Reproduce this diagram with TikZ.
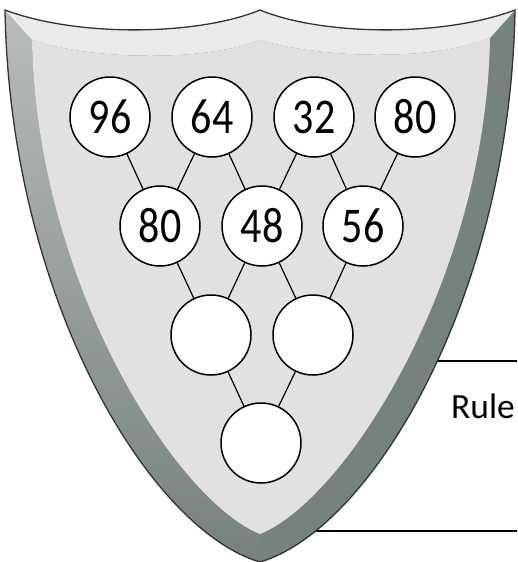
\documentclass[tikz,border=0pt]{standalone}
\usepackage{fontspec}
\setmainfont{Carlito}
\newfontfamily\digitfont{Carlito}[FakeStretch=0.84]
\definecolor{bevelright}{RGB}{118,130,125}
\definecolor{bevelleft}{RGB}{185,188,186}
\definecolor{beveltop}{RGB}{234,234,234}
\definecolor{shieldface}{RGB}{225,225,225}
\begin{document}
\begin{tikzpicture}[x=1pt,y=-1pt,
  num/.style={circle,draw,fill=white,line width=1.5pt,minimum size=80pt,inner sep=0pt,
    font=\digitfont\fontsize{50}{52}\selectfont},
  link/.style={line width=1.2pt}]
\clip (0,0) rectangle (517,562);
% rule box behind the shield
\draw[line width=1.2pt] (300,361) rectangle (580,531);
\node[anchor=base west,inner sep=0pt,font=\fontsize{35.5}{40}\selectfont] (rule) at (451,418) {Rule};
% shield
\fill[bevelright] (5,10) .. controls (80,38) and (200,35) .. (260,10) .. controls (320,35) and (440,38) .. (515,10)
  .. controls (510,300) and (370,530) .. (260,562) .. controls (150,530) and (10,300) .. (5,10) -- cycle;
\shade[top color=bevelleft,bottom color=bevelright] (5,10) .. controls (10,300) and (150,530) .. (260,562)
  -- (260,534) .. controls (175,500) and (36,280) .. (32,40) -- cycle;
\fill[beveltop] (5,10) .. controls (80,38) and (200,35) .. (260,10) .. controls (320,35) and (440,38) .. (515,10)
  -- (490,38) .. controls (430,62) and (320,58) .. (260,40) .. controls (210,60) and (100,62) .. (32,40) -- cycle;
\fill[shieldface] (32,40) .. controls (100,62) and (210,60) .. (260,40) .. controls (320,58) and (430,62) .. (490,38)
  .. controls (486,280) and (345,500) .. (260,534) .. controls (175,500) and (36,280) .. (32,40) -- cycle;
\draw[line width=1.3pt,black!80] (5,10) .. controls (80,38) and (200,35) .. (260,10) .. controls (320,35) and (440,38) .. (515,10)
  .. controls (510,300) and (370,530) .. (260,562) .. controls (150,530) and (10,300) .. (5,10) -- cycle;
% circles
\node[num] (t1) at (110,117) {96};
\node[num] (t2) at (212,117) {64};
\node[num] (t3) at (314,117) {32};
\node[num] (t4) at (415,117) {80};
\node[num] (m1) at (160,226) {80};
\node[num] (m2) at (262,226) {48};
\node[num] (m3) at (363,226) {56};
\node[num] (b1) at (211,335) {};
\node[num] (b2) at (313,335) {};
\node[num] (r) at (261,443) {};
% connectors
\draw[link] (t1) -- (m1);
\draw[link] (t2) -- (m1);
\draw[link] (t2) -- (m2);
\draw[link] (t3) -- (m2);
\draw[link] (t3) -- (m3);
\draw[link] (t4) -- (m3);
\draw[link] (m1) -- (b1);
\draw[link] (m2) -- (b1);
\draw[link] (m2) -- (b2);
\draw[link] (m3) -- (b2);
\draw[link] (b1) -- (r);
\draw[link] (b2) -- (r);
\end{tikzpicture}
\end{document}
